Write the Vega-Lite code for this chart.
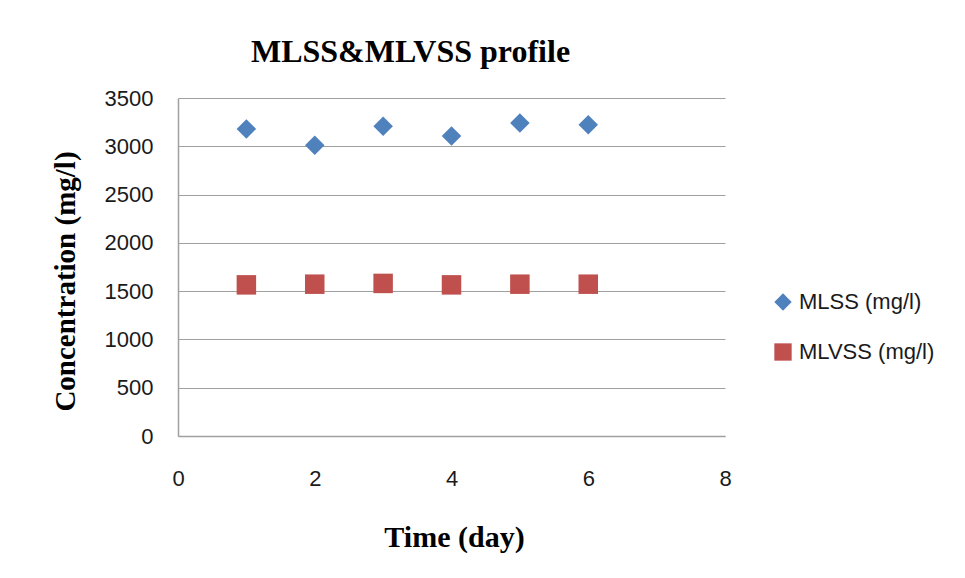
{
  "$schema": "https://vega.github.io/schema/vega-lite/v6.json",
  "autosize": "none",
  "width": 547,
  "height": 338,
  "padding": {"left": 178, "top": 98, "right": 240, "bottom": 142},
  "background": "white",
  "title": {
    "text": "MLSS&MLVSS profile",
    "font": "Liberation Serif",
    "fontSize": 32,
    "fontWeight": "bold",
    "color": "black",
    "anchor": "middle",
    "frame": "group",
    "dx": -41,
    "offset": 18
  },
  "data": {
    "values": [
      {"day": 1, "series": "MLSS (mg/l)", "value": 3180},
      {"day": 2, "series": "MLSS (mg/l)", "value": 3010},
      {"day": 3, "series": "MLSS (mg/l)", "value": 3207},
      {"day": 4, "series": "MLSS (mg/l)", "value": 3107},
      {"day": 5, "series": "MLSS (mg/l)", "value": 3242},
      {"day": 6, "series": "MLSS (mg/l)", "value": 3224},
      {"day": 1, "series": "MLVSS (mg/l)", "value": 1565},
      {"day": 2, "series": "MLVSS (mg/l)", "value": 1572},
      {"day": 3, "series": "MLVSS (mg/l)", "value": 1580},
      {"day": 4, "series": "MLVSS (mg/l)", "value": 1565},
      {"day": 5, "series": "MLVSS (mg/l)", "value": 1572},
      {"day": 6, "series": "MLVSS (mg/l)", "value": 1572}
    ]
  },
  "mark": {"type": "point", "filled": true, "size": 380, "opacity": 1},
  "encoding": {
    "x": {
      "field": "day",
      "type": "quantitative",
      "scale": {"domain": [0, 8], "nice": false},
      "axis": {
        "title": "Time (day)",
        "values": [0, 2, 4, 6, 8],
        "format": "d",
        "grid": false,
        "ticks": false,
        "labelFlush": false,
        "labelPadding": 32,
        "titleX": 276,
        "titleY": 110,
        "titleFontSize": 30,
        "titleBaseline": "alphabetic"
      }
    },
    "y": {
      "field": "value",
      "type": "quantitative",
      "scale": {"domain": [0, 3500], "nice": false},
      "axis": {
        "title": "Concentration (mg/l)",
        "values": [0, 500, 1000, 1500, 2000, 2500, 3000, 3500],
        "format": "d",
        "grid": true,
        "ticks": false,
        "labelPadding": 25,
        "titleX": -104,
        "titleY": 183,
        "titleAngle": -90,
        "titleAlign": "center",
        "titleBaseline": "alphabetic"
      }
    },
    "color": {
      "field": "series",
      "type": "nominal",
      "scale": {"domain": ["MLSS (mg/l)", "MLVSS (mg/l)"], "range": ["#4F81BD", "#C0504D"]},
      "legend": {
        "title": null,
        "orient": "none",
        "legendX": 594,
        "legendY": 193,
        "rowPadding": 28,
        "symbolSize": 300,
        "symbolOpacity": 1,
        "labelFont": "Liberation Sans",
        "labelFontSize": 22,
        "labelColor": "#1a1a1a",
        "labelOffset": 5,
        "symbolType": "circle"
      }
    },
    "shape": {
      "field": "series",
      "type": "nominal",
      "scale": {"domain": ["MLSS (mg/l)", "MLVSS (mg/l)"], "range": ["diamond", "square"]},
      "legend": null
    }
  },
  "config": {
    "view": {"stroke": null},
    "axis": {
      "domainColor": "#A0A0A0",
      "gridColor": "#A0A0A0",
      "gridOpacity": 1,
      "domainWidth": 1.5,
      "gridWidth": 1.2,
      "labelFont": "Liberation Sans",
      "labelFontSize": 22,
      "labelColor": "#1a1a1a",
      "titleFont": "Liberation Serif",
      "titleFontSize": 29,
      "titleFontWeight": "bold",
      "titleColor": "black"
    }
  }
}
